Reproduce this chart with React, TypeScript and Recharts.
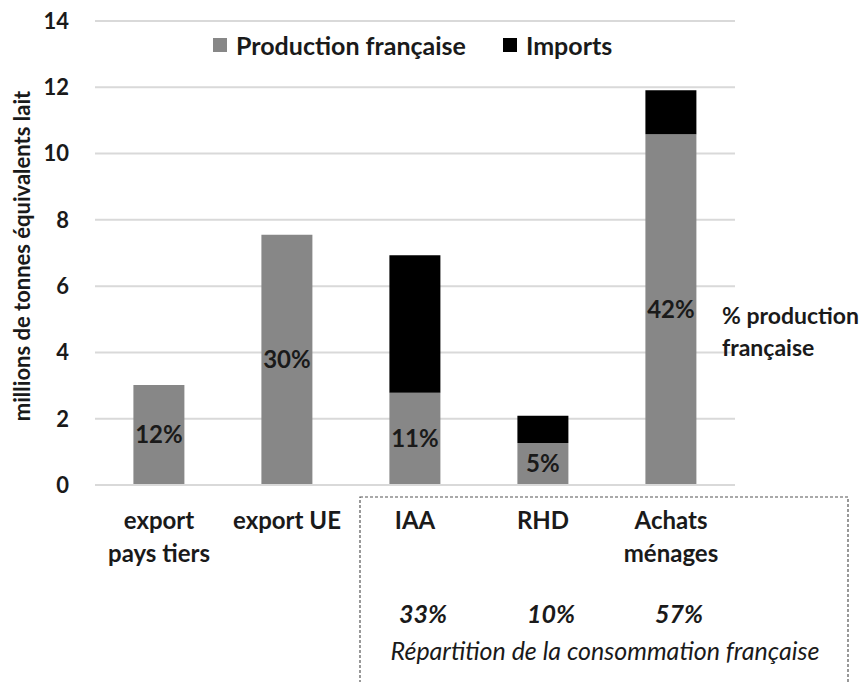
import React from "react";
import {
  BarChart,
  Bar,
  XAxis,
  YAxis,
  CartesianGrid,
  Legend,
  LabelList,
} from "recharts";

// categories and values (millions de tonnes équivalents lait)
const categories = ["export\npays tiers", "export UE", "IAA", "RHD", "Achats\nménages"];
const productionFr = [3.02, 7.55, 2.78, 1.27, 10.58];
const imports = [0, 0, 4.15, 0.82, 1.33];
const pctProduction = ["12%", "30%", "11%", "5%", "42%"];
const consumptionShare = ["", "", "33%", "10%", "57%"];
const yTicks = [0, 2, 4, 6, 8, 10, 12, 14];
const legendOrder = ["Production française", "Imports"];

const data = categories.map((name, i) => ({
  name,
  prod: productionFr[i],
  imp: imports[i],
  pct: pctProduction[i],
  share: consumptionShare[i],
}));

const FONT = "Lato, 'Open Sans', sans-serif";
const GREY = "#878787";
const GRID = "#d9d9d9";
const TEXT = "#1a1a1a";

const CategoryTick = (props: any) => {
  const { x, y, payload, index } = props;
  const lines = String(payload.value).split("\n");
  const share = consumptionShare[index];
  return (
    <g>
      <text
        x={x}
        y={y + 36}
        textAnchor="middle"
        fontFamily={FONT}
        fontWeight={700}
        fontSize={24}
        fill={TEXT}
      >
        {lines.map((l, i) => (
          <tspan key={i} x={x} dy={i === 0 ? 0 : 33}>
            {l}
          </tspan>
        ))}
      </text>
      {share && (
        <text
          x={x + 8}
          y={y + 130}
          textAnchor="middle"
          fontFamily={FONT}
          fontWeight={700}
          fontStyle="italic"
          fontSize={25}
          fill={TEXT}
        >
          {share}
        </text>
      )}
    </g>
  );
};

const LegendContent = (props: any) => {
  const items = [...(props.payload || [])].sort(
    (a: any, b: any) => legendOrder.indexOf(a.value) - legendOrder.indexOf(b.value)
  );
  return (
    <div style={{ display: "flex", fontFamily: FONT, fontWeight: 700, fontSize: 25, lineHeight: "30px", color: TEXT }}>
      {items.map((it: any, i: number) => (
        <div key={i} style={{ display: "flex", alignItems: "center", marginRight: 37 }}>
          <span style={{ width: 14, height: 14, background: it.color, display: "inline-block", marginRight: 9 }} />
          <span>{it.value}</span>
        </div>
      ))}
    </div>
  );
};

export default function App() {
  return (
    <div style={{ position: "absolute", left: 0, top: 0, width: 867, height: 682, background: "#fff" }}>
      <BarChart
        width={867}
        height={682}
        data={data}
        margin={{ top: 21, right: 132, left: 0, bottom: 0 }}
        barCategoryGap="30%"
      >
        <CartesianGrid vertical={false} stroke={GRID} strokeWidth={2} />
        <XAxis
          dataKey="name"
          axisLine={{ stroke: GRID, strokeWidth: 2 }}
          tickLine={false}
          height={197}
          interval={0}
          tick={<CategoryTick />}
        />
        <YAxis
          domain={[0, 14]}
          ticks={yTicks}
          width={95}
          axisLine={false}
          tickLine={false}
          tickMargin={20}
          tick={{ fontFamily: FONT, fontWeight: 700, fontSize: 22, fill: TEXT }}
        />
        <Legend
          verticalAlign="middle"
          align="center"
          layout="horizontal"
          wrapperStyle={{ top: 30, left: 213, width: 500 }}
          content={<LegendContent />}
        />
        <Bar dataKey="prod" name="Production française" stackId="a" fill={GREY} isAnimationActive={false}>
          <LabelList
            dataKey="pct"
            position="center"
            style={{ fontFamily: FONT, fontWeight: 700, fontSize: 24, fill: TEXT }}
          />
        </Bar>
        <Bar dataKey="imp" name="Imports" stackId="a" fill="#000" isAnimationActive={false} />
      </BarChart>
      <svg
        width={867}
        height={682}
        style={{ position: "absolute", left: 0, top: 0, pointerEvents: "none" }}
      >
        <text
          transform="translate(30,256) rotate(-90)"
          textAnchor="middle"
          fontFamily={FONT}
          fontWeight={700}
          fontSize={22}
          fill={TEXT}
        >
          millions de tonnes équivalents lait
        </text>
        <text x={722} y={324} fontFamily={FONT} fontWeight={700} fontSize={23} fill={TEXT}>
          % production
        </text>
        <text x={722} y={356} fontFamily={FONT} fontWeight={700} fontSize={23} fill={TEXT}>
          française
        </text>
        <rect x={360} y={497} width={488} height={200} fill="none" stroke="#555" strokeWidth={1.2} strokeDasharray="3 2" />
        <text
          x={605}
          y={660}
          textAnchor="middle"
          fontFamily={FONT}
          fontStyle="italic"
          fontSize={25}
          fill={TEXT}
        >
          Répartition de la consommation française
        </text>
      </svg>
    </div>
  );
}
